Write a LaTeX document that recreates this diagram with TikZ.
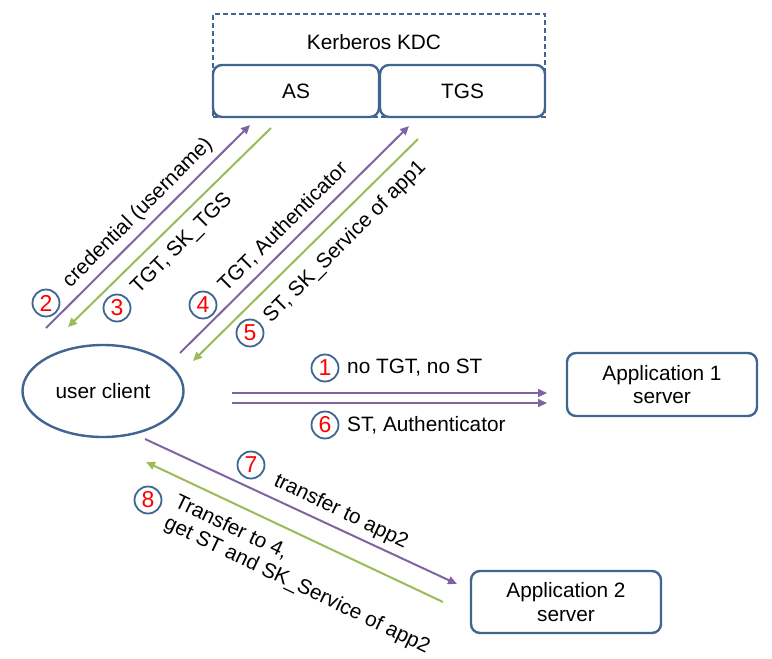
\documentclass[tikz,border=0pt]{standalone}
\usepackage{fontspec}
\setmainfont{Liberation Sans}
\usetikzlibrary{shapes.geometric,arrows.meta}
\definecolor{bord}{HTML}{3F6590}
\definecolor{purp}{HTML}{8064A2}
\definecolor{grn}{HTML}{9BBB59}
\begin{document}
\begin{tikzpicture}[x=1pt,y=-1pt,
  font=\fontsize{20.8}{23.5}\selectfont,
  box/.style={draw=bord, line width=2.4pt, rounded corners=9pt, align=center, inner sep=0pt, fill=white},
  num/.style={circle, draw=bord, line width=1.8pt, minimum size=27pt, inner sep=0pt, text=red, font=\fontsize{23}{25}\selectfont},
  parr/.style={draw=purp, line width=2pt, -{Triangle[length=9pt,width=8pt]}},
  garr/.style={draw=grn, line width=2pt, -{Triangle[length=9pt,width=8pt]}},
  lbl/.style={inner sep=0pt, align=left}]
\useasboundingbox (0,0) rectangle (772,659);

% KDC
\node[draw=bord, line width=2.2pt, dash pattern=on 5pt off 3pt, minimum width=332pt, minimum height=103pt, inner sep=0pt] (kdc) at (379,65.5) {};
\node[lbl] (kdclabel) at (374,42) {Kerberos KDC};
\node[box, minimum width=166pt, minimum height=52pt] (as) at (296,91) {AS};
\node[box, minimum width=165pt, minimum height=52pt] (tgs) at (462.5,91) {TGS};

% client and servers
\node[draw=bord, line width=2.4pt, ellipse, minimum width=161pt, minimum height=92pt, inner sep=0pt] (client) at (103,391) {user client};
\node[box, minimum width=190pt, minimum height=63pt] (app1) at (662,384.5) {Application 1\\server};
\node[box, minimum width=190pt, minimum height=62pt] (app2) at (566,602) {Application 2\\server};

% arrow end points
\coordinate (a2s) at (46,328);   \coordinate (a2e) at (250,125);
\coordinate (a3s) at (271,128);  \coordinate (a3e) at (68,327);
\coordinate (a4s) at (180,353);  \coordinate (a4e) at (409,126);
\coordinate (a5s) at (418,139);  \coordinate (a5e) at (193,361);
\coordinate (a1s) at (232,393);  \coordinate (a1e) at (547,393);
\coordinate (a6s) at (232,403);  \coordinate (a6e) at (547,403);
\coordinate (a7s) at (145,439);  \coordinate (a7e) at (457,584);
\coordinate (a8s) at (443,602);  \coordinate (a8e) at (146,462);

\draw[parr] (a2s) -- (a2e);
\draw[garr] (a3s) -- (a3e);
\draw[parr] (a4s) -- (a4e);
\draw[garr] (a5s) -- (a5e);
\draw[parr] (a1s) -- (a1e);
\draw[parr] (a6s) -- (a6e);
\draw[parr] (a7s) -- (a7e);
\draw[garr] (a8s) -- (a8e);

% labels
\node[lbl, rotate=45] (l2) at (138,213) {credential (username)};
\node[num] (n2) at (46,303) {2};
\node[lbl, rotate=45] (l3) at (182,244) {TGT, SK\_TGS};
\node[num] (n3) at (117,308) {3};
\node[lbl, rotate=45] (l4) at (283,227) {TGT, Authenticator};
\node[num] (n4) at (203,305) {4};
\node[lbl, rotate=45] (l5) at (345,242) {ST, SK\_Service of app1};
\node[num] (n5) at (250,333) {5};

\node[num] (n1) at (325,368) {1};
\node[lbl, anchor=west] (l1) at (347,368) {no TGT, no ST};
\node[num] (n6) at (325,425) {6};
\node[lbl, anchor=west] (l6) at (347,425) {ST, Authenticator};

\node[num] (n7) at (251,465) {7};
\node[lbl, rotate=-25.5] (l7) at (341,512) {transfer to app2};
\node[num] (n8) at (148,500) {8};
\node[lbl, rotate=-25.5] (l8) at (302,575) {Transfer to 4,\\get ST and SK\_Service of app2};
\end{tikzpicture}
\end{document}
